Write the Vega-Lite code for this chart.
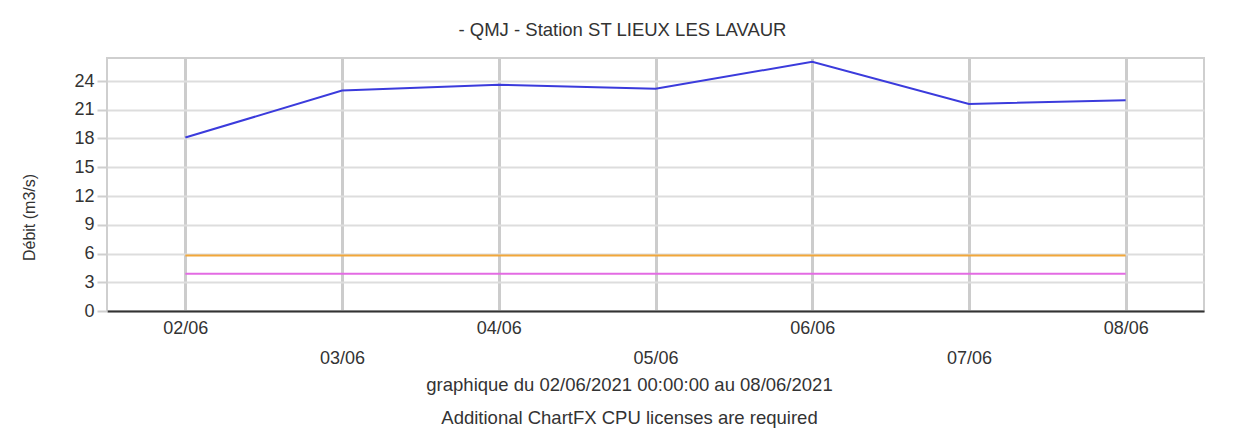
{
  "$schema": "https://vega.github.io/schema/vega-lite/v6.json",
  "width": 1097,
  "height": 253,
  "autosize": {"type": "none"},
  "padding": {"left": 107, "top": 58, "right": 30, "bottom": 118},
  "background": "#ffffff",
  "title": {
    "text": "- QMJ - Station ST LIEUX LES LAVAUR",
    "anchor": "middle",
    "frame": "group",
    "dx": -33,
    "offset": 19,
    "font": "Liberation Sans",
    "fontSize": 18.5,
    "fontWeight": "normal",
    "color": "#333333"
  },
  "config": {
    "view": {"stroke": "#cfcfcf", "strokeWidth": 2},
    "font": "Liberation Sans"
  },
  "data": {
    "values": [
      {"jour": "02/06", "serie": "QMJ", "debit": 18.1},
      {"jour": "03/06", "serie": "QMJ", "debit": 23.0},
      {"jour": "04/06", "serie": "QMJ", "debit": 23.6},
      {"jour": "05/06", "serie": "QMJ", "debit": 23.2},
      {"jour": "06/06", "serie": "QMJ", "debit": 26.0},
      {"jour": "07/06", "serie": "QMJ", "debit": 21.6},
      {"jour": "08/06", "serie": "QMJ", "debit": 22.0},
      {"jour": "02/06", "serie": "Débit seuil", "debit": 5.8},
      {"jour": "03/06", "serie": "Débit seuil", "debit": 5.8},
      {"jour": "04/06", "serie": "Débit seuil", "debit": 5.8},
      {"jour": "05/06", "serie": "Débit seuil", "debit": 5.8},
      {"jour": "06/06", "serie": "Débit seuil", "debit": 5.8},
      {"jour": "07/06", "serie": "Débit seuil", "debit": 5.8},
      {"jour": "08/06", "serie": "Débit seuil", "debit": 5.8},
      {"jour": "02/06", "serie": "Débit de crise", "debit": 3.9},
      {"jour": "03/06", "serie": "Débit de crise", "debit": 3.9},
      {"jour": "04/06", "serie": "Débit de crise", "debit": 3.9},
      {"jour": "05/06", "serie": "Débit de crise", "debit": 3.9},
      {"jour": "06/06", "serie": "Débit de crise", "debit": 3.9},
      {"jour": "07/06", "serie": "Débit de crise", "debit": 3.9},
      {"jour": "08/06", "serie": "Débit de crise", "debit": 3.9}
    ]
  },
  "mark": {"type": "line", "strokeWidth": 2, "clip": true},
  "encoding": {
    "x": {
      "field": "jour",
      "type": "ordinal",
      "sort": null,
      "scale": {"type": "point", "padding": 0.5},
      "axis": {
        "title": ["graphique du 02/06/2021 00:00:00 au 08/06/2021", "Additional ChartFX CPU licenses are required"],
        "titleFont": "Liberation Sans",
        "titleFontSize": 18.5,
        "titleFontWeight": "normal",
        "titleColor": "#333333",
        "titleLineHeight": 33,
        "titleBaseline": "top",
        "titleAnchor": "start",
        "titleAlign": "center",
        "titleX": 522,
        "titleY": 64,
        "labelAngle": 0,
        "labelFontSize": 18,
        "labelColor": "#333333",
        "labelBaseline": "top",
        "labelPadding": {
          "condition": {"test": "indexof(['03/06','05/06','07/06'], datum.value) >= 0", "value": 38},
          "value": 8
        },
        "ticks": false,
        "domain": true,
        "domainColor": "#333333",
        "domainWidth": 2,
        "grid": true,
        "gridColor": "#cccccc",
        "gridWidth": 3
      }
    },
    "y": {
      "field": "debit",
      "type": "quantitative",
      "scale": {"domain": [0, 26.4], "nice": false},
      "axis": {
        "title": "Débit (m3/s)",
        "titleFont": "Liberation Sans",
        "titleFontSize": 16,
        "titleFontWeight": "normal",
        "titleColor": "#333333",
        "titleX": -78,
        "titleY": 159,
        "titleBaseline": "middle",
        "titleAlign": "center",
        "values": [0, 3, 6, 9, 12, 15, 18, 21, 24],
        "labelFontSize": 18,
        "labelColor": "#333333",
        "labelPadding": 3,
        "tickSize": 10,
        "tickColor": "#cfcfcf",
        "tickWidth": 2,
        "domain": false,
        "grid": true,
        "gridColor": "#dddddd",
        "gridWidth": 2
      }
    },
    "color": {
      "field": "serie",
      "type": "nominal",
      "scale": {"domain": ["QMJ", "Débit seuil", "Débit de crise"], "range": ["#3b3bdc", "#f2a73a", "#e36be3"]},
      "legend": null
    }
  }
}
